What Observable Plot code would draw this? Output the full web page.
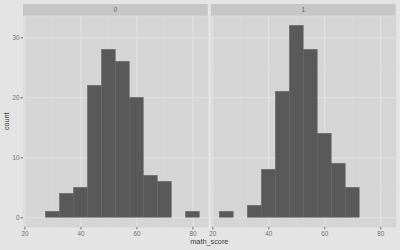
<!DOCTYPE html>
<html><head><meta charset="utf-8">
<script src="https://cdn.jsdelivr.net/npm/d3@7"></script>
<script src="https://cdn.jsdelivr.net/npm/@observablehq/plot@0.6"></script>
<style>html,body{margin:0;padding:0;background:#e4e4e4;overflow:hidden} svg{display:block}</style>
</head><body><div id="chart"></div>
<script>
const groups = ["0", "1"];
const binStarts = [22.5, 27.5, 32.5, 37.5, 42.5, 47.5, 52.5, 57.5, 62.5, 67.5, 72.5, 77.5];
const binWidth = 5;
const counts0 = [0, 1, 4, 5, 22, 28, 26, 20, 7, 6, 0, 1];
const counts1 = [1, 0, 2, 8, 21, 32, 28, 14, 9, 5, 0, 0];
const xTicks = [20, 40, 60, 80];
const xMinor = [30, 50, 70];
const yTicks = [0, 10, 20, 30];
const yMinor = [5, 15, 25];
const xTitle = "math_score";
const yTitle = "count";

const countsByGroup = {"0": counts0, "1": counts1};
const rows = groups.flatMap(g => binStarts.map((b, i) => ({group: g, x1: b, x2: b + binWidth, count: countsByGroup[g][i]})))
  .filter(d => d.count > 0);

const font = "'Liberation Sans', Arial, sans-serif";
const chart = Plot.plot({
  width: 400, height: 250,
  marginLeft: 23, marginRight: 4.3, marginTop: 15.7, marginBottom: 23.1,
  style: {background: "#e4e4e4", fontFamily: font},
  fx: {domain: groups, paddingInner: 0.0165, paddingOuter: 0, round: false, axis: null, label: null},
  x: {domain: [19.5, 85.5]},
  y: {domain: [-1.6, 33.6]},
  marks: [
    Plot.frame({fill: "#d5d5d5", stroke: "none"}),
    Plot.gridX(xMinor, {stroke: "#dadada", strokeOpacity: 1, strokeWidth: 0.6}),
    Plot.gridY(yMinor, {stroke: "#dadada", strokeOpacity: 1, strokeWidth: 0.6}),
    Plot.gridX(xTicks, {stroke: "#e2e2e2", strokeOpacity: 1, strokeWidth: 1.1}),
    Plot.gridY(yTicks, {stroke: "#e2e2e2", strokeOpacity: 1, strokeWidth: 1.1}),
    Plot.rect(rows, {fx: "group", x1: "x1", x2: "x2", y1: 0, y2: "count", fill: "#595959", inset: 0, stroke: "#595959", strokeWidth: 0.3}),
    Plot.axisX(xTicks, {tickSize: 2.5, tickPadding: 1.5, fontSize: 6.3, color: "#707070", label: null}),
    Plot.axisY(yTicks, {tickSize: 2.5, tickPadding: 1.5, fontSize: 6.3, color: "#707070", label: null})
  ]
});
document.getElementById("chart").appendChild(chart);

const svg = d3.select(chart);
const fxScale = chart.scale("fx");
const yScale = chart.scale("y");
const panelTop = yScale.apply(33.6);
const bw = fxScale.bandwidth;
const strips = svg.append("g");
groups.forEach(g => {
  const x0 = fxScale.apply(g);
  strips.append("rect").attr("x", x0).attr("y", panelTop - 11.7).attr("width", bw).attr("height", 11.7).attr("fill", "#c6c6c6");
  strips.append("text").attr("x", x0 + bw / 2).attr("y", panelTop - 5.8).attr("text-anchor", "middle")
    .attr("dominant-baseline", "middle").attr("font-size", 6.3).attr("fill", "#606060").attr("font-family", font).text(g);
});
const xs = groups.map(g => fxScale.apply(g));
const midX = (xs[0] + xs[xs.length - 1] + bw) / 2;
svg.append("text").attr("x", midX).attr("y", 242).attr("text-anchor", "middle").attr("dominant-baseline", "middle")
  .attr("font-size", 7.3).attr("fill", "#3a3a3a").attr("font-family", font).text(xTitle);
const midY = (yScale.apply(33.6) + yScale.apply(-1.6)) / 2;
svg.append("text").attr("transform", `translate(7,${midY}) rotate(-90)`).attr("text-anchor", "middle").attr("dominant-baseline", "middle")
  .attr("font-size", 7.3).attr("fill", "#3a3a3a").attr("font-family", font).text(yTitle);
</script>
</body></html>
